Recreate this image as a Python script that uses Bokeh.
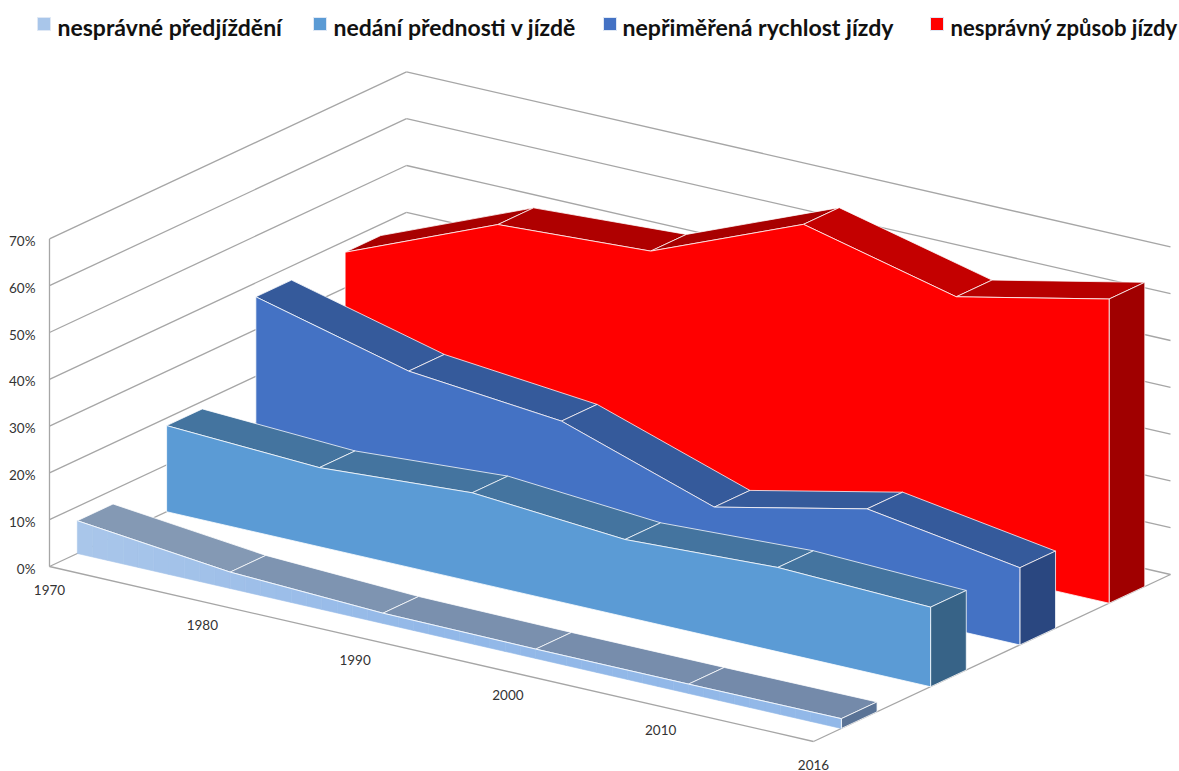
from bokeh.embed import file_html
from bokeh.resources import INLINE
from bokeh.plotting import figure
from bokeh.models import Range1d
from bokeh.core.properties import value

years = ["1970", "1980", "1990", "2000", "2010", "2016"]
pct_ticks = [0, 10, 20, 30, 40, 50, 60, 70]
s_predjizdeni = [7.0, 3.5, 2.2, 2.0, 2.0, 2.1]
s_prednost = [18.4, 16.9, 19.0, 16.5, 18.0, 17.0]
s_rychlost = [37.0, 28.6, 25.4, 14.5, 21.6, 16.5]
s_zpusob = [37.6, 51.0, 52.8, 66.0, 58.0, 65.0]
names = ["nesprávné předjíždění", "nedání přednosti v jízdě",
         "nepřiměřená rychlost jízdy", "nesprávný způsob jízdy"]

# parallel projection of the 3-D box onto the page
OX, OY = 49.0, 566.0      # floor, front left
XV = (764.0, 175.0)       # category axis, whole length
ZV = (357.0, -167.0)      # depth axis, whole length
UNIT = 46.8 / 10.0        # px per percent
BAND = 0.1                # depth of one ribbon
SLOT = 0.25
GAP = 0.078


def proj(t, d, v):
    return (OX + XV[0] * t + ZV[0] * d, OY + XV[1] * t + ZV[1] * d - UNIT * v)


def tpos(i):
    return i / (len(years) - 1)


def blend(a, b, f):
    ca = [int(a[i:i + 2], 16) for i in (1, 3, 5)]
    cb = [int(b[i:i + 2], 16) for i in (1, 3, 5)]
    return "#%02x%02x%02x" % tuple(round(x + (y - x) * f) for x, y in zip(ca, cb))


p = figure(width=1179, height=771, output_backend="svg", toolbar_location=None,
           x_range=Range1d(0, 1179), y_range=Range1d(771, 0),
           min_border=0, outline_line_color=None, x_axis_location=None,
           y_axis_location=None)
p.grid.visible = False
p.background_fill_color = "white"
p.border_fill_color = "white"

GRID = "#a6a6a6"


def seg(a, b):
    p.line([a[0], b[0]], [a[1], b[1]], line_color=GRID, line_width=1.3)


# walls and floor
for v in pct_ticks:
    seg(proj(0, 0, v), proj(0, 1, v))
    seg(proj(0, 1, v), proj(1, 1, v))
seg(proj(0, 0, 0), proj(0, 0, pct_ticks[-1]))
seg(proj(0, 0, 0), proj(1, 0, 0))
seg(proj(1, 0, 0), proj(1, 1, 0))


def poly(pts, fill, line="white", width=0.9, alpha=0.85):
    p.patch([q[0] for q in pts], [q[1] for q in pts], fill_color=fill,
            line_color=line, line_width=width, line_alpha=alpha)


def ribbon(vals, slot, front, tops, cap, gradient=None):
    d0 = GAP + slot * SLOT
    d1 = d0 + BAND
    n = len(vals)
    for i in range(n - 1):
        t0, t1 = tpos(i), tpos(i + 1)
        poly([proj(t0, d0, vals[i]), proj(t1, d0, vals[i + 1]),
              proj(t1, d1, vals[i + 1]), proj(t0, d1, vals[i])], tops[i])
    poly([proj(1, d0, vals[-1]), proj(1, d1, vals[-1]), proj(1, d1, 0), proj(1, d0, 0)], cap)
    if gradient:
        steps = 10
        for i in range(n - 1):
            t0, t1 = tpos(i), tpos(i + 1)
            for k in range(steps):
                f0, f1 = k / steps, (k + 1) / steps
                ta, tb = t0 + (t1 - t0) * f0, t0 + (t1 - t0) * f1
                va = vals[i] + (vals[i + 1] - vals[i]) * f0
                vb = vals[i] + (vals[i + 1] - vals[i]) * f1
                c = blend(gradient[0], gradient[1], min(1, ta * 2.2))
                poly([proj(ta, d0, va), proj(tb, d0, vb), proj(tb, d0, 0), proj(ta, d0, 0)],
                     c, line=c, width=0.6, alpha=1)
        pts = [proj(tpos(i), d0, vals[i]) for i in range(n)]
        p.line([q[0] for q in pts], [q[1] for q in pts], line_color="white", line_width=1, line_alpha=0.85)
        p.line([proj(1, d0, 0)[0], proj(1, d0, vals[-1])[0]],
               [proj(1, d0, 0)[1], proj(1, d0, vals[-1])[1]], line_color="white", line_width=1, line_alpha=0.85)
    else:
        pts = [proj(tpos(i), d0, vals[i]) for i in range(n)] + [proj(1, d0, 0), proj(0, d0, 0)]
        poly(pts, front)


ribbon(s_zpusob, 3, "#ff0000", ["#a80000", "#af0000", "#a80000", "#c40000", "#b70000"], "#a00000")
ribbon(s_rychlost, 2, "#4472c4", ["#355a9b"] * 5, "#2a4780")
ribbon(s_prednost, 1, "#5b9bd5", ["#44749f"] * 5, "#376387")
ribbon(s_predjizdeni, 0, "#9dc0e8", ["#8499b4", "#7e94b1", "#7a90ae", "#778dac", "#748aaa"], "#5a7396",
       gradient=("#a9c6ea", "#92b8e8"))

TICK = "#333333"
# value labels
for v in pct_ticks:
    x, y = proj(0, 0, v)
    p.text([x - 14], [y + 2], text=["%d%%" % v], text_align="right", text_baseline="middle",
           text_font=value("Lato"), text_font_size="13.5px", text_color=TICK)
# category labels
for i, yr in enumerate(years):
    x, y = proj(tpos(i), 0, 0)
    p.text([x], [y + 23], text=[yr], text_align="center", text_baseline="middle",
           text_font=value("Lato"), text_font_size="13.5px", text_color=TICK)

# legend
sw_left = [37, 313, 603, 930]
txt_left = [57, 333, 622, 950]
txt_size = ["23px", "23px", "23.1px", "22.1px"]
sw_col = ["#a9c6ea", "#5b9bd5", "#4472c4", "#ff0000"]
for name, sl, tl, fs, c in zip(names, sw_left, txt_left, txt_size, sw_col):
    p.quad(left=[sl], right=[sl + 13], top=[17], bottom=[30], fill_color=c, line_color="#dfe8f5", line_width=1)
    p.text([tl], [26.5], text=[name], text_align="left", text_baseline="middle",
           text_font=value("Lato"), text_font_style="bold", text_font_size=fs, text_color="#111111")

open("out.html", "w").write(file_html(p, INLINE))
